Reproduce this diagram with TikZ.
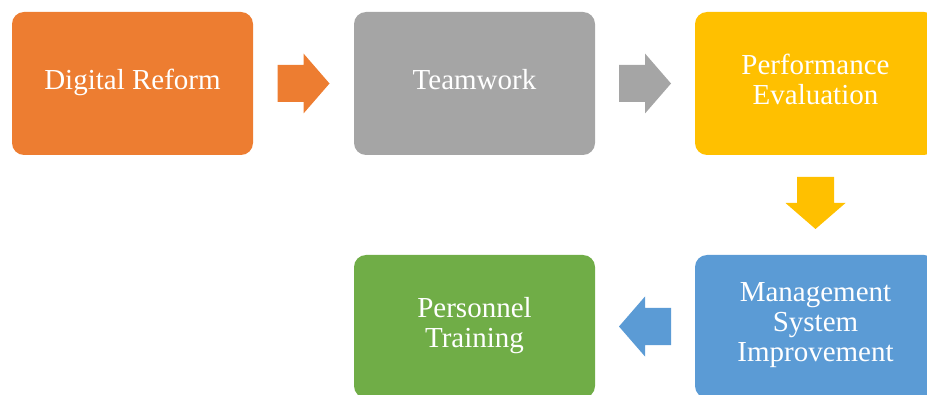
\documentclass[tikz,border=0pt]{standalone}
\usepackage{fontspec}
\setmainfont{Liberation Serif}
\usetikzlibrary{calc}

\definecolor{reformorange}{HTML}{ED7D31}
\definecolor{teamgray}{HTML}{A5A5A5}
\definecolor{evalgold}{HTML}{FFC000}
\definecolor{systemblue}{HTML}{5B9BD5}
\definecolor{traingreen}{HTML}{70AD47}

\tikzset{
	stage/.style={rectangle, rounded corners=12pt, minimum width=241pt,
		minimum height=143pt, inner sep=0pt, align=center, text=white,
		font=\fontsize{29}{30}\selectfont,
		execute at begin node=\strut, execute at end node=\strut},
	% fat arrow, pointing right, head base at the origin
	pics/blockarrow/.style={code={
		\fill[#1] (-26,-18.5) -- (0,-18.5) -- (0,-30) -- (26,0)
			-- (0,30) -- (0,18.5) -- (-26,18.5) -- cycle;
	}}
}

\begin{document}
\begin{tikzpicture}[x=1pt, y=1pt]

	\useasboundingbox (0,0) rectangle (927,394);
	\clip (0,0) rectangle (927,394);

	% top row
	\node[stage, fill=reformorange] (digital) at (132.5,310.5) {Digital Reform};
	\node[stage, fill=teamgray] (teamwork) at (474.5,310.5) {Teamwork};
	\node[stage, fill=evalgold] (perf) at (815.5,310.5) {Performance\\Evaluation};

	% bottom row
	\node[stage, fill=systemblue] (mgmt) at (815.5,67.5) {Management\\System\\Improvement};
	\node[stage, fill=traingreen] (training) at (474.5,67.5) {Personnel\\Training};

	% arrows between the stages
	\pic at ($(digital.east)!0.5!(teamwork.west)$) {blockarrow=reformorange};
	\pic at ($(teamwork.east)!0.5!(perf.west)$) {blockarrow=teamgray};
	\pic[rotate=-90] at ($(perf.south)!0.5!(mgmt.north)+(0,2)$) {blockarrow=evalgold};
	\pic[rotate=180] at ($(mgmt.west)!0.5!(training.east)$) {blockarrow=systemblue};

\end{tikzpicture}
\end{document}
